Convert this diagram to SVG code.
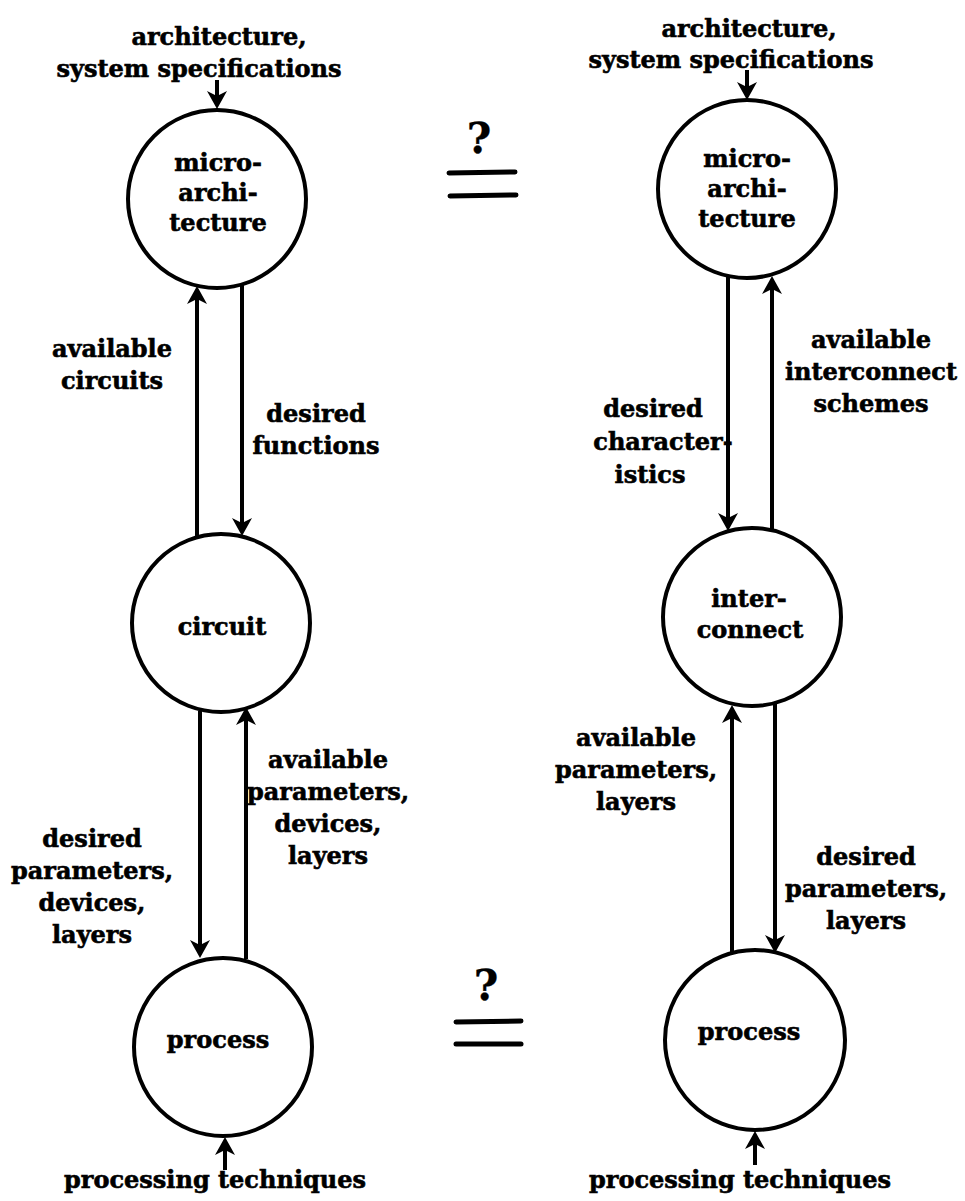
<svg xmlns="http://www.w3.org/2000/svg" width="965" height="1201" viewBox="0 0 965 1201">
  <style>
    .node { fill: none; stroke: #000; stroke-width: 4; }
    .edge { fill: none; stroke: #000; stroke-width: 4; marker-end: url(#head); }
    .eq { stroke: #000; stroke-width: 5; stroke-linecap: round; }
    text { font-family: "DejaVu Serif", "Liberation Serif", serif; font-weight: bold; font-size: 24px; fill: #000; stroke: #000; stroke-width: 0.6; text-anchor: middle; }
    .q { font-size: 42px; stroke-width: 0.3; }
  </style>
  <defs>
    <marker id="head" markerUnits="userSpaceOnUse" markerWidth="24" markerHeight="24" refX="0" refY="0" orient="auto" overflow="visible">
      <path d="M13,0 L-5,-10 L0,0 L-5,10 Z" fill="#000"/>
    </marker>
  </defs>

  <rect width="965" height="1201" fill="#fff"/>

  <!-- left chain: microarchitecture / circuit / process -->
  <g id="n-micro-left">
    <circle class="node" cx="217" cy="199" r="89"/>
    <text x="218" y="171">micro-</text>
    <text x="218" y="201">archi-</text>
    <text x="218" y="231">tecture</text>
  </g>
  <g id="n-circuit">
    <circle class="node" cx="221" cy="623" r="89"/>
    <text x="222" y="635">circuit</text>
  </g>
  <g id="n-process-left">
    <circle class="node" cx="223" cy="1047" r="89"/>
    <text x="218" y="1048">process</text>
  </g>

  <!-- right chain: microarchitecture / interconnect / process -->
  <g id="n-micro-right">
    <circle class="node" cx="747" cy="189" r="89"/>
    <text x="747" y="167">micro-</text>
    <text x="747" y="197">archi-</text>
    <text x="747" y="227">tecture</text>
  </g>
  <g id="n-interconnect">
    <circle class="node" cx="752" cy="617" r="89"/>
    <text x="749" y="607">inter-</text>
    <text x="750" y="638">connect</text>
  </g>
  <g id="n-process-right">
    <circle class="node" cx="755" cy="1040" r="90"/>
    <text x="749" y="1040">process</text>
  </g>

  <!-- equivalence marks between the chains -->
  <g id="eq-top">
    <text class="q" x="479" y="153">?</text>
    <line class="eq" x1="449" y1="173" x2="515" y2="172"/>
    <line class="eq" x1="450" y1="196" x2="516" y2="195"/>
  </g>
  <g id="eq-bottom">
    <text class="q" x="486" y="1000">?</text>
    <line class="eq" x1="456" y1="1022" x2="521" y2="1021"/>
    <line class="eq" x1="456" y1="1044" x2="521" y2="1044"/>
  </g>

  <!-- connectors -->
  <g id="connectors">
    <!-- left -->
    <line class="edge" x1="217" y1="80" x2="217" y2="96"/>
    <line class="edge" x1="197" y1="537" x2="197" y2="299"/>
    <line class="edge" x1="242" y1="285" x2="242" y2="523"/>
    <line class="edge" x1="200" y1="711" x2="200" y2="945"/>
    <line class="edge" x1="246" y1="959" x2="246" y2="720"/>
    <line class="edge" x1="225" y1="1170" x2="225" y2="1150"/>
    <!-- right -->
    <line class="edge" x1="747" y1="70" x2="747" y2="87"/>
    <line class="edge" x1="728" y1="277" x2="728" y2="518"/>
    <line class="edge" x1="772" y1="530" x2="772" y2="289"/>
    <line class="edge" x1="732" y1="953" x2="732" y2="718"/>
    <line class="edge" x1="775" y1="703" x2="775" y2="940"/>
    <line class="edge" x1="755" y1="1165" x2="755" y2="1144"/>
  </g>

  <!-- connector labels -->
  <g id="labels">
    <text x="219" y="45">architecture,</text>
    <text x="199" y="77">system specifications</text>
    <text x="749" y="37">architecture,</text>
    <text x="731" y="68">system specifications</text>

    <text x="112" y="357">available</text>
    <text x="112" y="389">circuits</text>
    <text x="316" y="422">desired</text>
    <text x="316" y="454">functions</text>

    <text x="92" y="847">desired</text>
    <text x="92" y="879">parameters,</text>
    <text x="92" y="911">devices,</text>
    <text x="92" y="943">layers</text>
    <text x="328" y="768">available</text>
    <text x="328" y="800">parameters,</text>
    <text x="328" y="832">devices,</text>
    <text x="328" y="864">layers</text>

    <text x="871" y="348">available</text>
    <text x="871" y="380">interconnect</text>
    <text x="871" y="412">schemes</text>
    <text x="653" y="417">desired</text>
    <text x="663" y="450">character-</text>
    <text x="650" y="483">istics</text>

    <text x="636" y="746">available</text>
    <text x="636" y="778">parameters,</text>
    <text x="636" y="810">layers</text>
    <text x="866" y="865">desired</text>
    <text x="866" y="897">parameters,</text>
    <text x="866" y="929">layers</text>

    <text x="215" y="1188">processing techniques</text>
    <text x="740" y="1188">processing techniques</text>
  </g>
</svg>
